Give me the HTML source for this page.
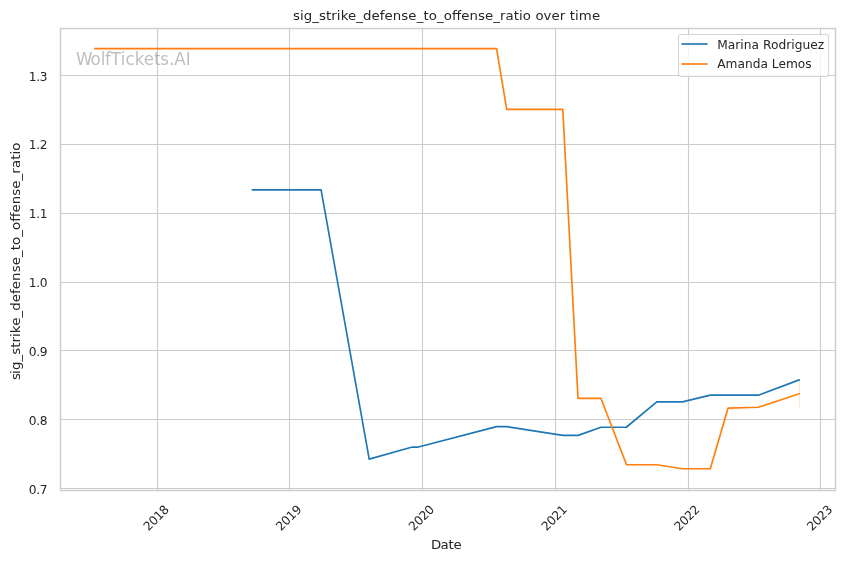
<!DOCTYPE html>
<html lang="en">
<head>
<meta charset="utf-8">
<title>sig_strike_defense_to_offense_ratio over time</title>
<style>
html,body{margin:0;padding:0;background:#ffffff;}
body{width:845px;height:561px;overflow:hidden;}
svg{display:block;}
text{font-family:"DejaVu Sans","Liberation Sans",sans-serif;fill:#262626;}
.tk{font-size:12.222px;}
.lb{font-size:13.333px;}
.grid line{stroke:#cccccc;stroke-width:1.111;stroke-linecap:butt;}
.spine{fill:none;stroke:#cccccc;stroke-width:1.389;stroke-linecap:square;stroke-linejoin:miter;}
.ln{fill:none;stroke-width:1.667;stroke-linecap:round;stroke-linejoin:round;}
</style>
</head>
<body>
<svg width="845" height="561" viewBox="0 0 845 561">
<rect x="0" y="0" width="845" height="561" fill="#ffffff"/>
<g class="grid">
<line x1="157.5" y1="28.5" x2="157.5" y2="490.5"/>
<line x1="289.5" y1="28.5" x2="289.5" y2="490.5"/>
<line x1="422.5" y1="28.5" x2="422.5" y2="490.5"/>
<line x1="555.5" y1="28.5" x2="555.5" y2="490.5"/>
<line x1="688.5" y1="28.5" x2="688.5" y2="490.5"/>
<line x1="820.5" y1="28.5" x2="820.5" y2="490.5"/>
<line x1="60.5" y1="75.5" x2="835.5" y2="75.5"/>
<line x1="60.5" y1="144.5" x2="835.5" y2="144.5"/>
<line x1="60.5" y1="213.5" x2="835.5" y2="213.5"/>
<line x1="60.5" y1="282.5" x2="835.5" y2="282.5"/>
<line x1="60.5" y1="350.5" x2="835.5" y2="350.5"/>
<line x1="60.5" y1="419.5" x2="835.5" y2="419.5"/>
<line x1="60.5" y1="488.5" x2="835.5" y2="488.5"/>
</g>
<line x1="799.5" y1="380" x2="799.5" y2="407.4" stroke="#ff7f0e" stroke-width="1.111" opacity="0.2"/>
<polyline class="ln" stroke="#1f77b4" points="252.30,189.80 321.10,189.80 369.20,459.10 412.30,447.00 417.50,447.20 496.60,426.60 506.70,426.60 562.80,435.40 578.10,435.40 601.00,427.25 626.30,427.25 656.80,401.85 682.50,401.85 710.30,395.10 758.30,395.20 799.20,379.90"/>
<polyline class="ln" stroke="#ff7f0e" points="94.80,48.70 496.60,48.70 506.70,109.45 562.80,109.45 578.00,398.45 601.00,398.45 626.50,464.75 656.80,464.75 682.50,468.75 710.30,468.75 728.10,408.05 758.30,407.25 799.20,393.70"/>
<rect class="spine" x="60.5" y="28.5" width="775.0" height="462.0"/>
<g class="tk">
<text transform="translate(148.50 531.55) rotate(-45)" textLength="30.1" lengthAdjust="spacing">2018</text>
<text transform="translate(281.10 531.55) rotate(-45)" textLength="30.1" lengthAdjust="spacing">2019</text>
<text transform="translate(413.70 531.55) rotate(-45)" textLength="30.1" lengthAdjust="spacing">2020</text>
<text transform="translate(546.40 531.55) rotate(-45)" textLength="30.1" lengthAdjust="spacing">2021</text>
<text transform="translate(679.30 531.55) rotate(-45)" textLength="30.1" lengthAdjust="spacing">2022</text>
<text transform="translate(811.90 531.55) rotate(-45)" textLength="30.1" lengthAdjust="spacing">2023</text>
<text x="47.43" y="81.00" text-anchor="end" textLength="18.6" lengthAdjust="spacing">1.3</text>
<text x="47.43" y="149.00" text-anchor="end" textLength="18.6" lengthAdjust="spacing">1.2</text>
<text x="47.43" y="218.00" text-anchor="end" textLength="18.6" lengthAdjust="spacing">1.1</text>
<text x="47.43" y="287.00" text-anchor="end" textLength="18.6" lengthAdjust="spacing">1.0</text>
<text x="47.43" y="356.00" text-anchor="end" textLength="18.6" lengthAdjust="spacing">0.9</text>
<text x="47.43" y="425.00" text-anchor="end" textLength="18.6" lengthAdjust="spacing">0.8</text>
<text x="47.43" y="494.00" text-anchor="end" textLength="18.6" lengthAdjust="spacing">0.7</text>
</g>
<text class="lb" transform="translate(431.07 549.1) scale(1 0.945)" dx="0 -0.9 -0.1 -0.2">Date</text>
<text class="lb" transform="translate(20.13 380.0) rotate(-90) scale(1 0.945)" dx="0 -0.9" textLength="237.4" lengthAdjust="spacing">sig_strike_defense_to_offense_ratio</text>
<text transform="translate(76.1 64.9) scale(1 1.07)" dx="0 -1.05 -0.1 -0.2 -0.1 0.25 0.05 0.2 -0.1 0 -0.2 0.1 -0.1 -0.1" style="font-size:16.667px;fill:#808080;opacity:0.5">WolfTickets.AI</text>
<text class="lb" transform="translate(292.9 20.13) scale(1 0.945)" textLength="307.2" lengthAdjust="spacing">sig_strike_defense_to_offense_ratio over time</text>
<rect x="678.5" y="34.5" width="150" height="42" rx="2.44" ry="2.44" fill="#ffffff" fill-opacity="0.8" stroke="#cccccc" stroke-opacity="0.8" stroke-width="1.111"/>
<line stroke="#1f77b4" stroke-width="1.667" x1="681.41" y1="44" x2="707.59" y2="44"/>
<line stroke="#ff7f0e" stroke-width="1.667" x1="681.41" y1="64" x2="707.59" y2="64"/>
<g class="tk"><text x="717.18" y="48.75" textLength="107.1" lengthAdjust="spacing">Marina Rodriguez</text><text x="717.18" y="67.7">Amanda Lemos</text></g>
</svg>
</body>
</html>
